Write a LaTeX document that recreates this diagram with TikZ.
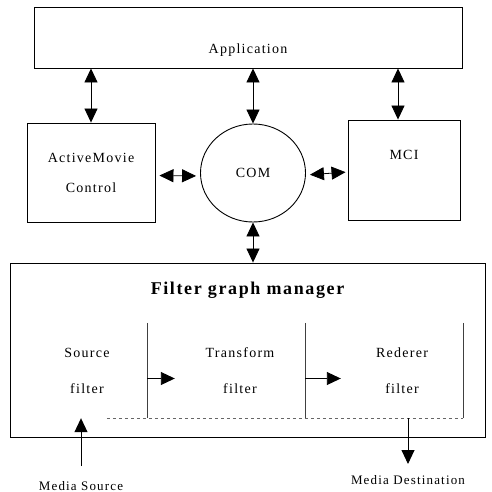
\documentclass[tikz,border=0pt]{standalone}
\usepackage{fontspec}
\setmainfont{Liberation Serif}[LetterSpace=9]
\usetikzlibrary{positioning}
\usetikzlibrary{shapes,arrows.meta}
\tikzset{
    plainBox/.style={draw, line width=0.9pt, rectangle, inner sep=0pt, align=center,
        font=\fontsize{14}{30}\selectfont},
    filterBox/.style={rectangle, minimum height=95pt, inner sep=0pt, align=center,
        font=\fontsize{14}{36}\selectfont},
    twoWay/.style={{Triangle[length=14pt,width=13pt]}-{Triangle[length=14pt,width=13pt]}, line width=0.8pt},
    oneWay/.style={-{Triangle[length=14pt,width=13pt]}, line width=0.9pt}
}
\begin{document}
\begin{tikzpicture}[x=1pt, y=-1pt]
        \useasboundingbox (0,0) rectangle (491,492);
        % top row
        \node[plainBox, minimum width=428pt, minimum height=61pt,
            label={[yshift=-13pt, font=\fontsize{14}{16}\selectfont]center:Application}] (app) at (248,37.5) {};
        \node[plainBox, minimum width=128pt, minimum height=99pt] (amc) at (91,172.5) {ActiveMovie\\Control};
        \node[plainBox, ellipse, minimum width=105pt, minimum height=98pt] (com) at (253,173) {COM};
        \node[plainBox, minimum width=112pt, minimum height=100pt,
            label={[yshift=15pt, font=\fontsize{14}{16}\selectfont]center:MCI}] (mci) at (404,170) {};
        % filter graph
        \node[plainBox, minimum width=475pt, minimum height=174pt,
            label={[yshift=60pt, font=\fontsize{18}{20}\selectfont\bfseries]center:Filter graph manager}] (fgm) at (247.5,350) {};
        \node[filterBox, minimum width=120pt] (src) at (87,370.5) {Source\\filter};
        \node[filterBox, minimum width=130pt] (trf) at (240,370.5) {Transform\\filter};
        \node[filterBox, minimum width=122pt] (rnd) at (402,370.5) {Rederer\\filter};
        \draw[thin, black!75] (src.north east) -- (src.south east);
        \draw[thin, black!75] (trf.north east) -- (trf.south east);
        \draw[thin, black!75] (rnd.north east) -- (rnd.south east);
        \draw[thin, dashed, black!60] ([xshift=80pt]src.south west) -- (rnd.south east);
        % connectors
        \draw[twoWay] (amc.north |- app.south) -- (amc.north);
        \draw[twoWay] (com.north |- app.south) -- (com.north);
        \draw[twoWay] ([xshift=-6pt]mci.north |- app.south) -- ([xshift=-6pt]mci.north);
        \draw[twoWay, shorten <=4pt, shorten >=4pt] ([yshift=-3pt]amc.east) -- ([yshift=-3pt]com.west);
        \draw[twoWay, shorten <=4pt, shorten >=2pt] ([yshift=-2pt]com.east) -- ([yshift=-2pt]mci.west);
        \draw[twoWay] (com.south) -- (com.south |- fgm.north);
        \draw[oneWay] ([yshift=-8pt]src.east) -- ([yshift=-8pt]trf.west);
        \draw[oneWay] ([yshift=-8pt]trf.east) -- ([yshift=-8pt]rnd.west);
        % media in and out
        \coordinate (srcIn) at (81,466);
        \draw[oneWay] (srcIn) -- (srcIn |- src.south);
        \node[below=15pt of srcIn, font=\fontsize{13}{14}\selectfont, inner sep=0pt] (srcLabel) {Media Source};
        \coordinate (dstOut) at (408,464);
        \draw[oneWay] (dstOut |- rnd.south) -- (dstOut);
        \node[below=11pt of dstOut, font=\fontsize{13}{14}\selectfont, inner sep=0pt] (dstLabel) {Media Destination};
\end{tikzpicture}
\end{document}
